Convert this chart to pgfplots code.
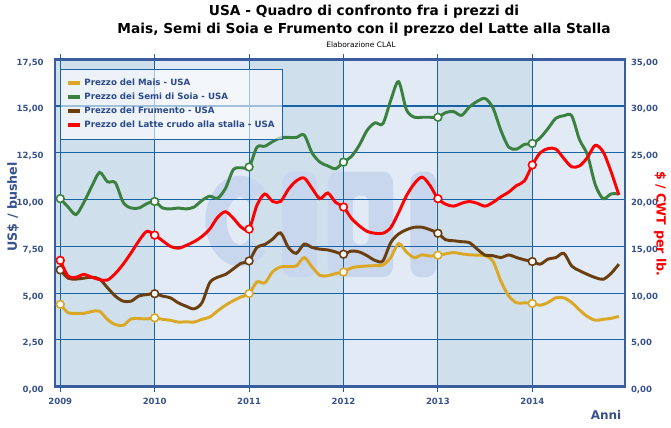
\documentclass[border=0pt]{standalone}
\usepackage{fontspec}
\setmainfont{DejaVu Sans}
\usepackage{pgfplots}
\pgfplotsset{compat=1.18}
\usepackage{pgfplotstable}
\definecolor{bandA}{RGB}{208,223,236}
\definecolor{bandB}{RGB}{226,234,245}
\definecolor{logoc}{RGB}{200,215,238}
\definecolor{gridc}{RGB}{22,100,165}
\definecolor{framec}{RGB}{58,93,160}
\definecolor{tickc}{RGB}{56,82,142}
\definecolor{legc}{RGB}{43,74,139}
\definecolor{corn}{RGB}{218,168,36}
\definecolor{soy}{RGB}{58,128,62}
\definecolor{wheat}{RGB}{106,62,14}
\definecolor{milk}{RGB}{255,0,0}

% m = month index (0 = Jan 2009); corn, soy, wheat in US$/bushel; milk in $/CWT
\pgfplotstableread{
m corn soy wheat milk
0 4.40 10.05 6.24 13.5
1 3.95 9.60 5.80 11.8
2 3.92 9.20 5.75 11.7
3 3.92 9.85 5.80 12.0
4 4.02 10.70 5.85 11.7
5 4.03 11.45 5.75 11.44
6 3.59 10.95 5.29 11.4
7 3.32 10.90 4.84 12.1
8 3.28 9.85 4.57 13.1
9 3.62 9.55 4.57 14.3
10 3.64 9.55 4.85 15.6
11 3.62 9.78 4.92 16.6
12 3.68 9.90 4.97 16.2
13 3.60 9.55 4.84 15.6
14 3.55 9.50 4.75 15.0
15 3.45 9.55 4.48 14.8
16 3.47 9.50 4.30 15.1
17 3.45 9.60 4.16 15.5
18 3.60 9.95 4.48 16.05
19 3.72 10.18 5.56 16.85
20 4.05 10.07 5.85 18.1
21 4.35 10.60 6.00 18.7
22 4.60 11.60 6.30 18.0
23 4.80 11.70 6.60 17.05
24 4.98 11.74 6.72 16.84
25 5.60 12.80 7.45 19.4
26 5.55 12.85 7.60 20.6
27 6.15 13.10 7.89 19.8
28 6.40 13.30 8.22 19.8
29 6.42 13.32 7.44 21.1
30 6.45 13.32 7.13 22.0
31 6.90 13.45 7.62 22.3
32 6.40 12.50 7.44 21.2
33 5.95 12.00 7.35 20.1
34 5.93 11.80 7.31 20.7
35 6.05 11.65 7.20 19.7
36 6.13 12.00 7.08 19.2
37 6.35 12.30 7.25 18.0
38 6.42 12.90 7.20 17.2
39 6.45 13.70 7.00 16.6
40 6.47 14.10 6.75 16.4
41 6.50 14.05 6.72 16.4
42 6.90 15.30 7.70 17.0
43 7.65 16.30 8.16 18.6
44 7.20 14.80 8.39 20.4
45 6.90 14.40 8.52 21.7
46 7.05 14.40 8.52 22.4
47 6.98 14.40 8.39 21.5
48 7.03 14.40 8.20 20.1
49 7.10 14.65 7.85 19.5
50 7.17 14.70 7.80 19.3
51 7.10 14.50 7.75 19.6
52 7.05 14.95 7.70 19.8
53 7.03 15.25 7.35 19.6
54 7.00 15.40 7.03 19.3
55 6.70 14.90 7.00 19.7
56 5.65 13.70 6.90 20.3
57 4.85 12.80 7.04 20.8
58 4.48 12.70 6.90 21.5
59 4.48 12.95 6.78 22.0
60 4.45 13.00 6.69 23.7
61 4.35 13.30 6.55 25.0
62 4.50 13.80 6.82 25.45
63 4.75 14.35 6.90 25.4
64 4.75 14.48 7.13 24.4
65 4.50 14.48 6.45 23.5
66 4.10 13.20 6.20 23.6
67 3.75 12.40 6.00 24.5
68 3.55 10.80 5.83 25.8
69 3.60 10.05 5.74 25.1
70 3.65 10.30 6.05 23.0
71 3.76 10.30 6.55 20.5
}\datatable

\pgfplotsset{
  common/.style={
    scale only axis,
    width=427.5pt, height=245.6pt,
    xmin=-0.67, xmax=71.78,
    tick label style={font=\bfseries\fontsize{6.4}{7}\selectfont, text=tickc},
    /pgf/number format/fixed,
    /pgf/number format/fixed zerofill,
    /pgf/number format/precision=2,
    /pgf/number format/use comma,
    /pgf/number format/assume math mode=true,
  },
  ser/.style={smooth, line width=2.2pt, mark=*, mark repeat=12, mark phase=1, mark size=2.9pt,
    mark options={fill=white, line width=1.2pt}},
}

\begin{document}
\begin{tikzpicture}[x=0.75pt,y=0.75pt]
\begin{axis}[
  common,
  name=main,
  at={(41.25pt,30.975pt)}, anchor=south west,
  set layers,
  ymin=0, ymax=17.5,
  ytick={0,2.5,...,17.5},
  xtick={0,12,24,36,48,60},
  xticklabels={2009,2010,2011,2012,2013,2014},
  grid=major,
  major grid style={gridc, line width=0.8pt},
  axis line style={framec, line width=2pt},
  ytick style={draw=none},
  xtick style={gridc, line width=0.8pt},
  tick align=outside,
  major tick length=4pt,
  yticklabel style={yshift=-2.5pt, xshift=-1pt},
  xticklabel style={yshift=-1pt},
  legend cell align=left,
  legend style={at={(0.0088,0.971)}, anchor=north west,
    fill=white, fill opacity=0.6, text opacity=1, draw=gridc, line width=0.6pt,
    font=\bfseries\fontsize{6.5}{7}\selectfont, text=legc,
    row sep=0.2pt, inner xsep=4pt, inner ysep=5pt},
  legend image code/.code={\draw[#1, line width=3pt, mark=none] (0pt,0pt) -- (9pt,0pt);},
]
\begin{pgfonlayer}{axis background}
  \fill[bandA] (axis cs:-0.67,0) rectangle (axis cs:12,17.5);
  \fill[bandB] (axis cs:12,0) rectangle (axis cs:24,17.5);
  \fill[bandA] (axis cs:24,0) rectangle (axis cs:36,17.5);
  \fill[bandB] (axis cs:36,0) rectangle (axis cs:48,17.5);
  \fill[bandA] (axis cs:48,0) rectangle (axis cs:60,17.5);
  \fill[bandB] (axis cs:60,0) rectangle (axis cs:71.78,17.5);
  % faint logo
  \draw[logoc, line width=16pt] (axis cs:25.0,10.17) arc[start angle=45, end angle=315, x radius=18pt, y radius=26pt];
  \fill[logoc, rounded corners=8pt] (axis cs:28.2,11.5) rectangle (axis cs:32.6,5.85);
  \fill[logoc, rounded corners=8pt] (axis cs:34.0,11.5) rectangle (axis cs:42.3,5.85);
  \fill[bandB, rounded corners=5pt] (axis cs:37.2,10.2) rectangle (axis cs:39.2,7.6);
  \fill[logoc, rounded corners=8pt] (axis cs:44.5,11.5) rectangle (axis cs:47.8,5.85);
\end{pgfonlayer}
\addplot[ser, corn] table[x=m, y=corn] {\datatable};
\addlegendentry{Prezzo del Mais - USA}
\addplot[ser, soy] table[x=m, y=soy] {\datatable};
\addlegendentry{Prezzo dei Semi di Soia - USA}
\addplot[ser, wheat] table[x=m, y=wheat] {\datatable};
\addlegendentry{Prezzo del Frumento - USA}
\addlegendimage{milk}
\addlegendentry{Prezzo del Latte crudo alla stalla - USA}
\end{axis}
\begin{axis}[
  common,
  at={(main.south west)}, anchor=south west,
  ymin=0, ymax=35,
  ytick={0,5,...,35},
  axis x line=none,
  axis y line*=right,
  axis line style={draw=none},
  ytick style={draw=none},
  yticklabel style={yshift=-2.5pt, xshift=1pt},
]
\addplot[ser, milk] table[x=m, y=milk] {\datatable};
\end{axis}
% titles and labels
\node[font=\bfseries\fontsize{10.3}{12}\selectfont] at (364,416) {USA - Quadro di confronto fra i prezzi di};
\node[font=\bfseries\fontsize{10.3}{12}\selectfont] at (364,398) {Mais, Semi di Soia e Frumento con il prezzo del Latte alla Stalla};
\node[font=\fontsize{5.6}{7}\selectfont] at (361,383) {Elaborazione CLAL};
\node[font=\bfseries\fontsize{9}{10}\selectfont, text=tickc, anchor=east] at (626,13) {Anni};
\node[font=\bfseries\fontsize{9.5}{10}\selectfont, text=tickc, rotate=90] at (13,221) {US\$ / bushel};
\node[font=\bfseries\fontsize{9.5}{10}\selectfont, text=milk, rotate=-90] at (660,204) {\$ / CWT per lb.};
\pgfresetboundingbox
\path (0,0) rectangle (671,428);
\end{tikzpicture}
\end{document}
